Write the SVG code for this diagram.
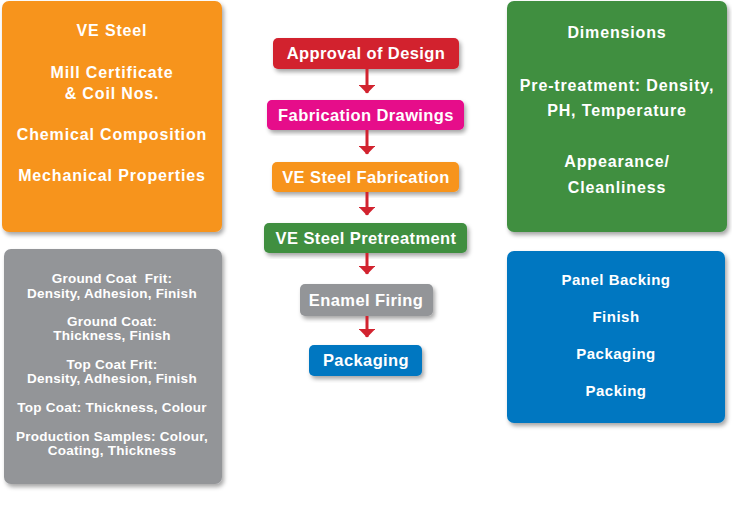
<svg xmlns="http://www.w3.org/2000/svg" width="732" height="531" viewBox="0 0 732 531">
<defs>
<filter id="sh" x="-10%" y="-10%" width="130%" height="130%">
<feDropShadow dx="2" dy="3" stdDeviation="2" flood-color="#000" flood-opacity="0.35"/>
</filter>
<marker id="ah" markerWidth="3" markerHeight="5.6" refX="2.7" refY="2.8" orient="auto" markerUnits="strokeWidth">
<path d="M0,0 L2.9,2.8 L0,5.6 Z" fill="#D2232F"/>
</marker>
</defs>
<style>
text{font-family:"Liberation Sans",Arial,sans-serif;font-weight:bold;fill:#fff;text-anchor:middle}
.big{font-size:16.5px;letter-spacing:0.4px}
.mid{font-size:16px;letter-spacing:0.85px}
.sm{font-size:13.5px;letter-spacing:0.25px}
.bl{font-size:15px;letter-spacing:0.5px}
.box{filter:url(#sh)}
.conn line{stroke:#D2232F;stroke-width:3;marker-end:url(#ah)}
</style>
<rect width="732" height="531" fill="#fff"/>

<g id="orange-box">
<rect class="box" x="2" y="1" width="220" height="231" rx="7" fill="#F7941D"/>
<text class="mid" x="112" y="36">VE Steel</text>
<text class="mid" x="112" y="78">Mill Certificate</text>
<text class="mid" x="112" y="99">&amp; Coil Nos.</text>
<text class="mid" x="112" y="140">Chemical Composition</text>
<text class="mid" x="112" y="181">Mechanical Properties</text>
</g>

<g id="gray-box">
<rect class="box" x="4" y="249" width="218" height="235" rx="7" fill="#939598"/>
<text class="sm" x="112" y="283" style="white-space:pre">Ground Coat  Frit:</text>
<text class="sm" x="112" y="298">Density, Adhesion, Finish</text>
<text class="sm" x="112" y="326">Ground Coat:</text>
<text class="sm" x="112" y="340">Thickness, Finish</text>
<text class="sm" x="112" y="369">Top Coat Frit:</text>
<text class="sm" x="112" y="383">Density, Adhesion, Finish</text>
<text class="sm" x="112" y="412">Top Coat: Thickness, Colour</text>
<text class="sm" x="112" y="441">Production Samples: Colour,</text>
<text class="sm" x="112" y="455">Coating, Thickness</text>
</g>

<g id="green-box">
<rect class="box" x="507" y="1" width="220" height="231" rx="7" fill="#3F8F41"/>
<text class="mid" x="617" y="38">Dimensions</text>
<text class="mid" x="617" y="91">Pre-treatment: Density,</text>
<text class="mid" x="617" y="116">PH, Temperature</text>
<text class="mid" x="617" y="167">Appearance/</text>
<text class="mid" x="617" y="193">Cleanliness</text>
</g>

<g id="blue-box">
<rect class="box" x="507" y="251" width="218" height="172" rx="7" fill="#0077C1"/>
<text class="bl" x="616" y="285">Panel Backing</text>
<text class="bl" x="616" y="322">Finish</text>
<text class="bl" x="616" y="359">Packaging</text>
<text class="bl" x="616" y="396">Packing</text>
</g>

<g id="approval-of-design">
<rect class="box" x="273" y="38" width="186" height="31" rx="5" fill="#D2232F"/>
<text class="big" x="366" y="59">Approval of Design</text>
</g>
<g id="fabrication-drawings">
<rect class="box" x="267" y="100" width="197" height="30" rx="5" fill="#E6078A"/>
<text class="big" x="366" y="121">Fabrication Drawings</text>
</g>
<g id="ve-steel-fabrication">
<rect class="box" x="272" y="162" width="187" height="30" rx="5" fill="#F7941D"/>
<text class="big" x="366" y="183">VE Steel Fabrication</text>
</g>
<g id="ve-steel-pretreatment">
<rect class="box" x="264" y="223" width="203" height="30" rx="5" fill="#3F8F41"/>
<text class="big" x="366" y="244">VE Steel Pretreatment</text>
</g>
<g id="enamel-firing">
<rect class="box" x="300" y="284" width="133" height="32" rx="5" fill="#939598"/>
<text class="big" x="366" y="306">Enamel Firing</text>
</g>
<g id="packaging">
<rect class="box" x="309" y="345" width="113" height="31" rx="5" fill="#0077C1"/>
<text class="big" x="366" y="366">Packaging</text>
</g>

<g id="connectors" class="conn">
<line x1="367" y1="69" x2="367" y2="93"/>
<line x1="367" y1="130" x2="367" y2="154"/>
<line x1="367" y1="192" x2="367" y2="215"/>
<line x1="367" y1="253" x2="367" y2="274"/>
<line x1="367" y1="316" x2="367" y2="337"/>
</g>
</svg>
